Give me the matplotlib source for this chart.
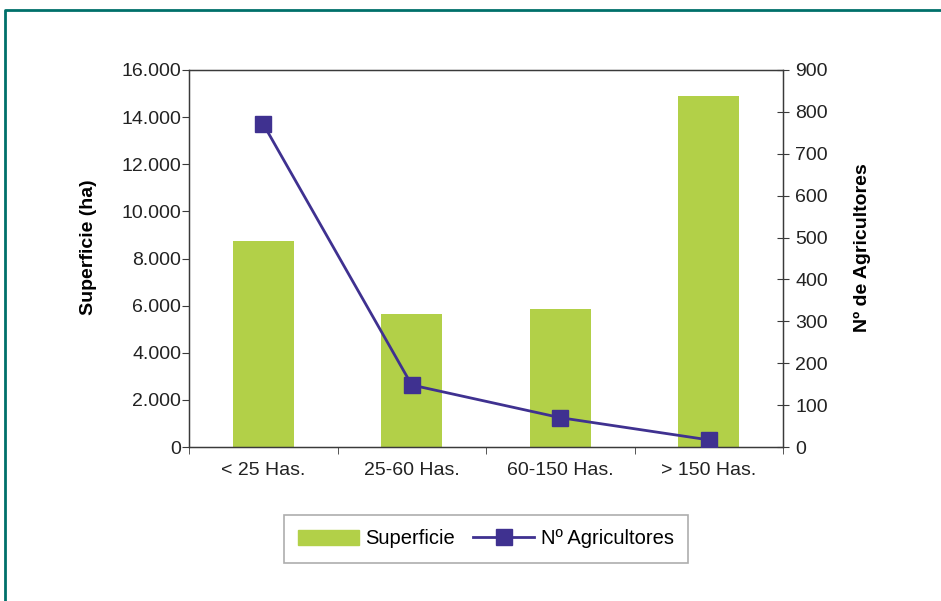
import numpy as np
import matplotlib.pyplot as plt
from matplotlib.lines import Line2D
from matplotlib.ticker import FuncFormatter

plt.rcParams['font.family'] = ['Liberation Sans', 'DejaVu Sans']

categorias = ["< 25 Has.", "25-60 Has.", "60-150 Has.", "> 150 Has."]
superficie = [8750, 5650, 5860, 14900]
agricultores = [771, 148, 70, 17]

verde = "#b2d048"
azul = "#3f3190"
gris = "#3a3a3a"
fs = 14

fig = plt.figure(figsize=(9.41, 6.01), dpi=100)
ax = fig.add_axes([189/941, 1 - 447/601, (783-189)/941, (447-70)/601])

x = np.arange(len(categorias))
ax.bar(x, superficie, width=0.41, color=verde, zorder=2)
ax.set_xlim(-0.5, 3.5)
ax.set_ylim(0, 16000)
ax.set_yticks(np.arange(0, 16001, 2000))
ax.yaxis.set_major_formatter(FuncFormatter(lambda v, p: f"{int(v):,}".replace(",", ".")))
ax.set_xticks(x)
ax.set_xticklabels(categorias)
ax.set_xticks(np.arange(-0.5, 4, 1), minor=True)
ax.tick_params(axis='x', which='major', length=0, pad=11, labelsize=fs, colors='#222222')
ax.tick_params(axis='x', which='minor', length=5, direction='out', color=gris)
ax.tick_params(axis='y', length=5, direction='out', pad=0.5, labelsize=fs, colors='#222222', color=gris)
ax.set_ylabel("Superficie (ha)", fontsize=fs, fontweight='bold')
ax.yaxis.set_label_coords(-0.155, 0.53)
for s in ax.spines.values():
    s.set_color(gris)
    s.set_linewidth(1)

ax2 = ax.twinx()
ax2.plot(x, agricultores, color=azul, lw=2, marker='s', markersize=11, zorder=3)
ax2.set_ylim(0, 900)
ax2.set_yticks(np.arange(0, 901, 100))
ax2.tick_params(axis='y', length=8, direction='inout', pad=5, labelsize=fs, colors='#222222', color=gris)
ax2.set_ylabel("Nº de Agricultores", fontsize=fs, fontweight='bold')
ax2.yaxis.set_label_coords(1.12, 0.53)
for s in ax2.spines.values():
    s.set_color(gris)

handles = [plt.Rectangle((0, 0), 1, 1, color=verde),
           Line2D([0], [0], color=azul, lw=2, marker='s', markersize=11)]
leg = fig.legend(handles, ["Superficie", "Nº Agricultores"], loc='center',
                 bbox_to_anchor=(486/941, 1 - 539/601), ncol=2, fontsize=14.5,
                 frameon=True, fancybox=False, edgecolor='#999999',
                 handlelength=3, handletextpad=0.35, columnspacing=0.9,
                 borderpad=0.7, borderaxespad=0)
leg.get_frame().set_linewidth(1.2)

# marco exterior
fig.add_artist(Line2D([5/941, 5/941, 1], [0, 1 - 10/601, 1 - 10/601],
                      transform=fig.transFigure, color="#00706a", lw=2))

fig.savefig("out.png", dpi=100)
